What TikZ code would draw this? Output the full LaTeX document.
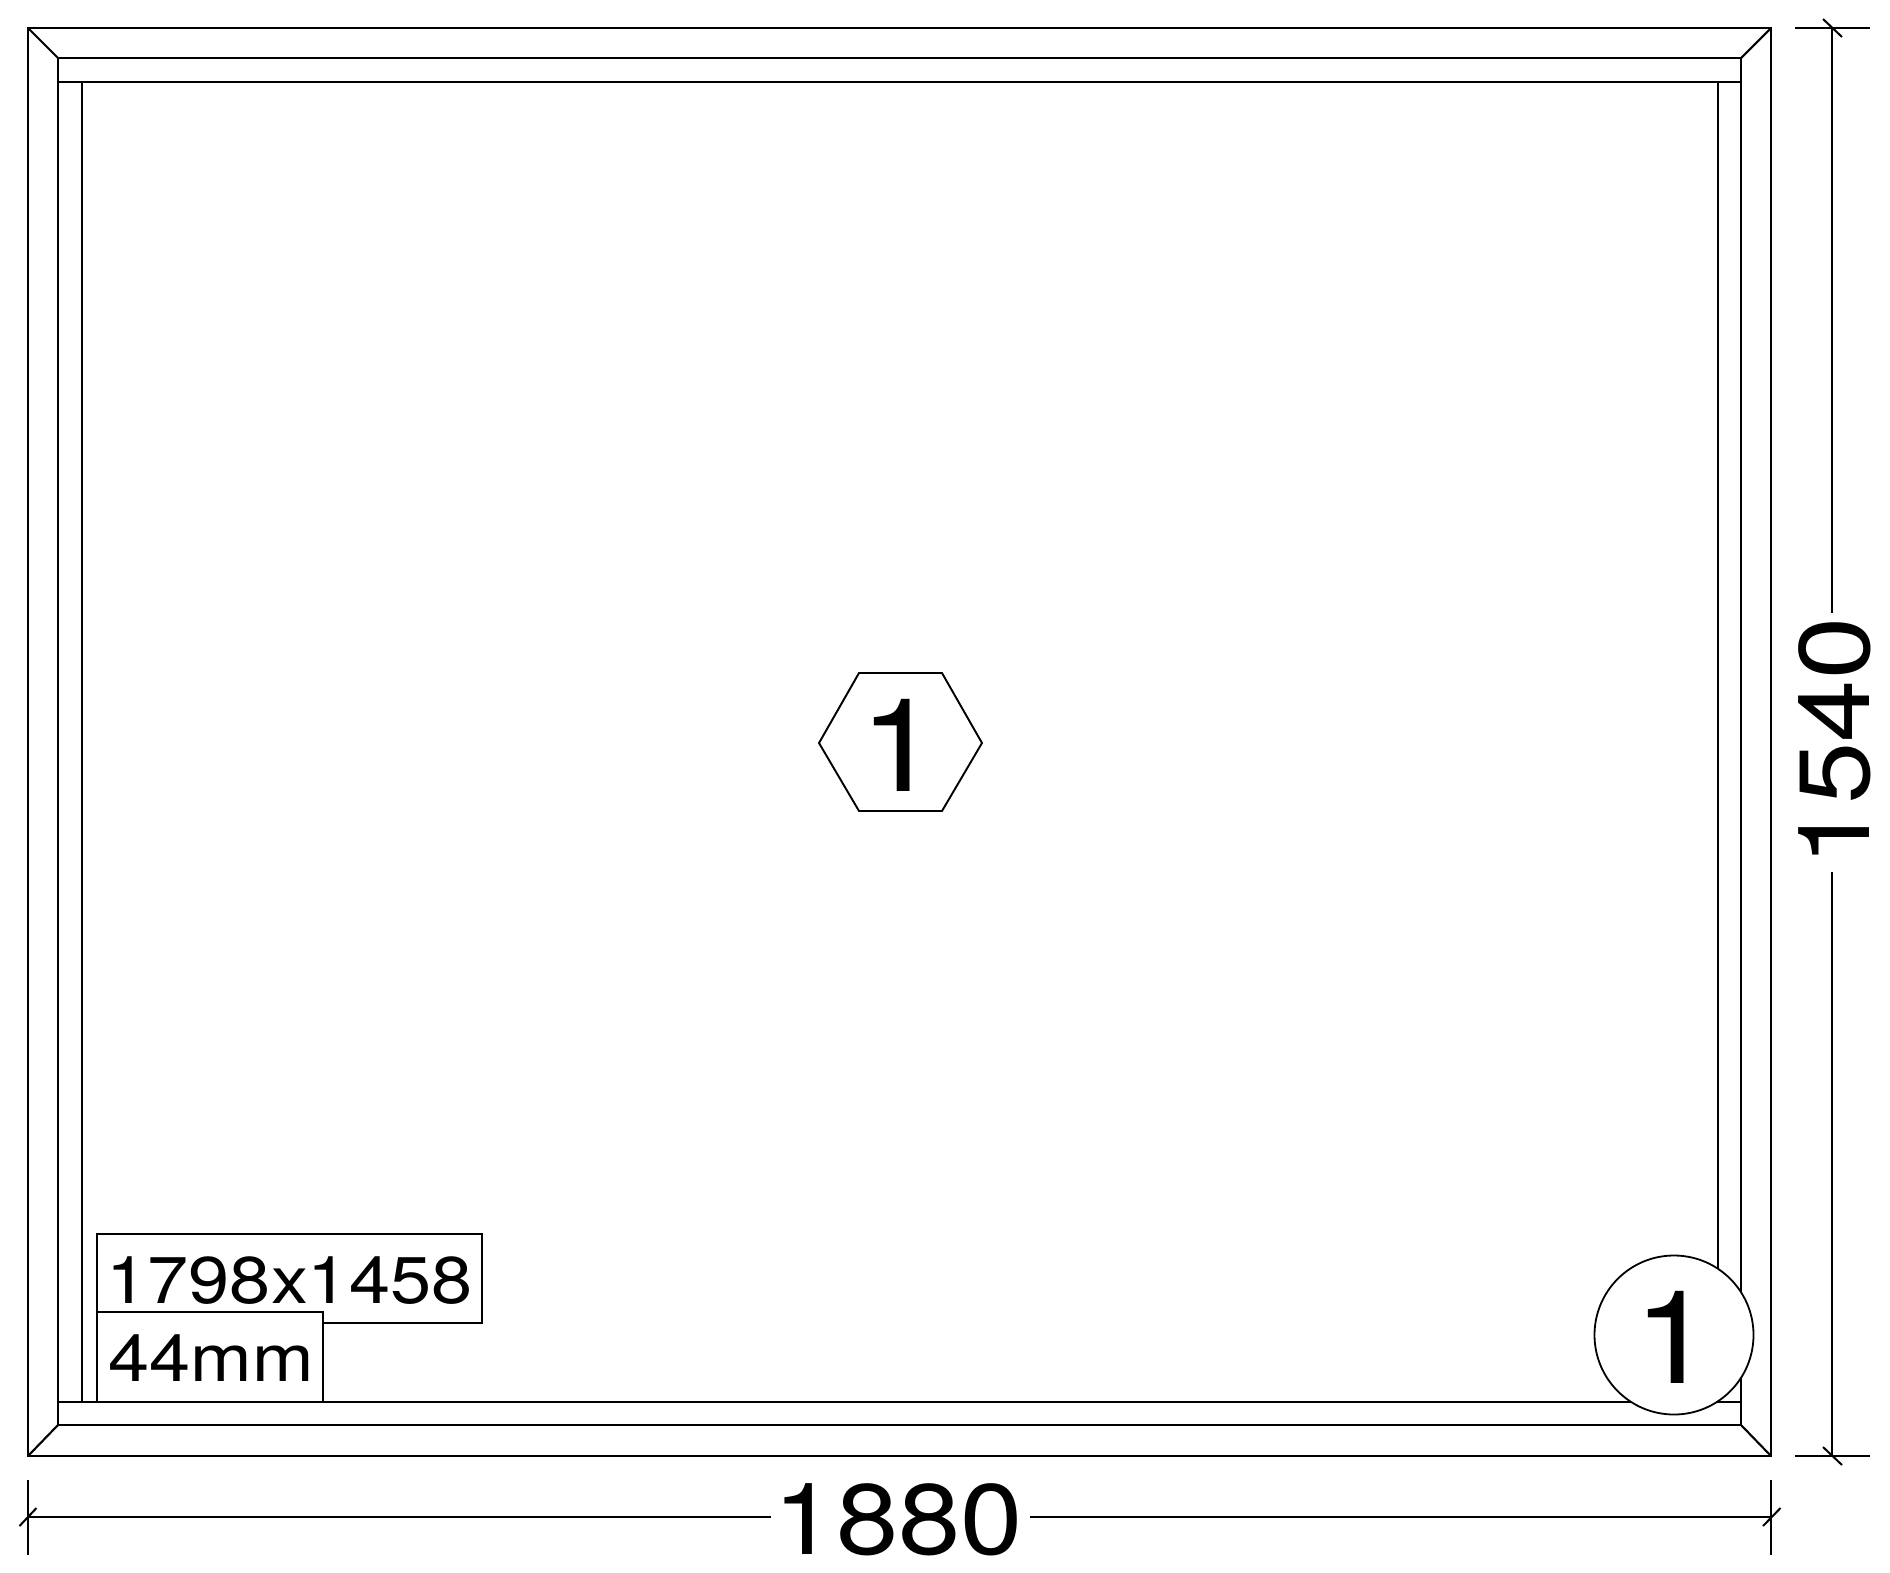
\documentclass[tikz,border=0pt]{standalone}
\usepackage{fontspec}
\setmainfont{TeX Gyre Heros}
\newfontfamily\dimfont[FakeStretch=1.12]{TeX Gyre Heros}
\tikzset{
  every picture/.style={x=1pt,y=-1pt},
  frameline/.style={line width=2.1pt,black,line join=miter},
  thinline/.style={line width=1.9pt,black},
  tickmark/.style={line width=2pt,black},
  labelbox/.style={draw=black,line width=1.8pt,fill=white},
  dimtext/.style={inner sep=0pt,anchor=base,font=\dimfont\fontsize{100}{100}\selectfont},
  tagtext/.style={inner sep=0pt,anchor=base,font=\dimfont\fontsize{66}{66}\selectfont},
  marktext/.style={inner sep=0pt,anchor=base,font=\dimfont\fontsize{130}{130}\selectfont},
}
\begin{document}
\begin{tikzpicture}
\useasboundingbox (0,0) rectangle (1890,1572);
% outer frame and rebate lines
\draw[frameline] (28,28) rectangle (1771,1456);
\draw[frameline] (58,58) rectangle (1741,1425);
\draw[frameline] (58,82) -- (1741,82);
\draw[frameline] (58,1402) -- (1741,1402);
\draw[frameline] (82,82) -- (82,1402);
\draw[frameline] (1718,82) -- (1718,1402);
% mitres
\draw[frameline] (28,28) -- (58,58);
\draw[frameline] (1771,28) -- (1741,58);
\draw[frameline] (28,1456) -- (58,1425);
\draw[frameline] (1771,1456) -- (1741,1425);
% size tags
\draw[labelbox] (97,1234) rectangle (482,1323);
\node[tagtext] (size) at (289.5,1303) {1798x1458};
\draw[labelbox] (97,1312) rectangle (323,1402);
\node[tagtext] (thick) at (211,1381) {44mm};
% hexagon mark
\draw[thinline] (819,743) -- (859,673) -- (942,673) -- (982,743) -- (942,811) -- (859,811) -- cycle;
\node[marktext] (hexnum) at (900,791) {1};
% circle mark
\node[circle,draw=black,line width=1.8pt,fill=white,minimum size=159pt,inner sep=0pt] (ring) at (1674,1335) {};
\node[marktext] (ringnum) at (1673.5,1383) {1};
% horizontal dimension
\node[dimtext] (w) at (898.5,1554) {1880};
\coordinate (wl) at (28,1517);
\coordinate (wr) at (1771,1517);
\coordinate (wa) at (771,1517);
\coordinate (wb) at (1030,1517);
\draw[thinline] (wl) -- (wa);
\draw[thinline] (wb) -- (wr);
\draw[thinline] (28,1480) -- (28,1555);
\draw[thinline] (1771,1480) -- (1771,1555);
\draw[tickmark] (19.5,1526) -- (36.5,1508);
\draw[tickmark] (1763,1526) -- (1780.5,1508);
% vertical dimension
\node[dimtext,rotate=90] (h) at (1869,742) {1540};
\coordinate (ht) at (1832,28);
\coordinate (hb) at (1832,1456);
\coordinate (ha) at (1832,613);
\coordinate (hc) at (1832,872);
\draw[thinline] (ht) -- (ha);
\draw[thinline] (hc) -- (hb);
\draw[thinline] (1795,28) -- (1870,28);
\draw[thinline] (1795,1456) -- (1870,1456);
\draw[tickmark] (1823,19) -- (1842,37);
\draw[tickmark] (1823,1447) -- (1842,1465);
\end{tikzpicture}
\end{document}
